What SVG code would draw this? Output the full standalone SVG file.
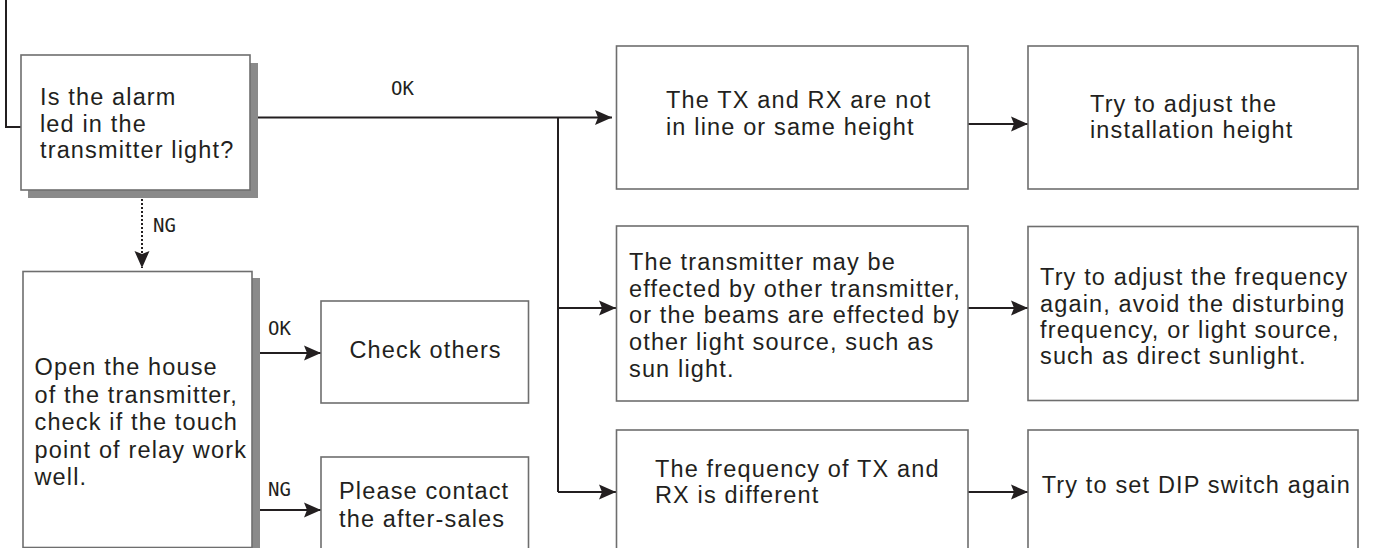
<svg xmlns="http://www.w3.org/2000/svg" width="1382" height="548" viewBox="0 0 1382 548">
<defs>
<style>
.box{fill:#fff;stroke:#6e6e6e;stroke-width:1.6}
.shadow{fill:#8a8a8a}
.t{font-family:"Liberation Sans",Arial,sans-serif;font-size:23.5px;letter-spacing:1.15px;fill:#231f20}
.lbl{font-family:"DejaVu Sans Mono","Liberation Mono",monospace;font-size:19px;fill:#231f20}
.ln{fill:none;stroke:#231f20;stroke-width:2}
.dot{fill:none;stroke:#231f20;stroke-width:2;stroke-dasharray:2 2}
</style>
<marker id="arr" markerUnits="userSpaceOnUse" markerWidth="18" markerHeight="16" refX="17" refY="8" orient="auto">
<path d="M0,0.5 L17,8 L0,15.5 L3,8 Z" fill="#231f20"/>
</marker>
</defs>
<rect width="1382" height="548" fill="#fff"/>
<g id="connectors">
<path class="ln" d="M6,0 V127 H21"/>
<path class="ln" d="M250,117.5 H612" marker-end="url(#arr)"/>
<path class="ln" d="M558,117.5 V492"/>
<path class="ln" d="M558,308 H616" marker-end="url(#arr)"/>
<path class="ln" d="M558,492 H616" marker-end="url(#arr)"/>
<path class="ln" d="M968,124 H1028" marker-end="url(#arr)"/>
<path class="ln" d="M968,308 H1028" marker-end="url(#arr)"/>
<path class="ln" d="M968,492 H1028" marker-end="url(#arr)"/>
<path class="dot" d="M142,191 V268" marker-end="url(#arr)"/>
<path class="ln" d="M252,353 H321" marker-end="url(#arr)"/>
<path class="ln" d="M252,510 H321" marker-end="url(#arr)"/>
<text class="lbl" x="391" y="95">OK</text>
<text class="lbl" x="153" y="232">NG</text>
<text class="lbl" x="268" y="335">OK</text>
<text class="lbl" x="268" y="496">NG</text>
</g>
<g id="q1">
<rect class="shadow" x="28" y="63" width="230" height="135"/>
<rect class="box" x="21" y="55" width="229" height="135"/>
<text class="t"><tspan x="40" y="105">Is the alarm</tspan><tspan x="40" y="131.5">led in the</tspan><tspan x="40" y="158">transmitter light?</tspan></text>
</g>
<g id="open">
<rect class="shadow" x="30" y="278" width="230" height="280"/>
<rect class="box" x="23" y="271.5" width="229" height="276"/>
<text class="t"><tspan x="34.5" y="375">Open the house</tspan><tspan x="34.5" y="402.5">of the transmitter,</tspan><tspan x="34.5" y="430">check if the touch</tspan><tspan x="34.5" y="457.5">point of relay work</tspan><tspan x="34.5" y="485">well.</tspan></text>
</g>
<g id="check">
<rect class="box" x="321" y="301" width="207.5" height="102"/>
<text class="t" x="349.5" y="357.5">Check others</text>
</g>
<g id="contact">
<rect class="box" x="321" y="457" width="207.5" height="92"/>
<text class="t"><tspan x="339" y="499">Please contact</tspan><tspan x="339" y="527">the after-sales</tspan></text>
</g>
<g id="c1">
<rect class="box" x="616.5" y="46" width="351.5" height="143"/>
<text class="t"><tspan x="666" y="108">The TX and RX are not</tspan><tspan x="666" y="135">in line or same height</tspan></text>
</g>
<g id="c2">
<rect class="box" x="616.5" y="226" width="351.5" height="175"/>
<text class="t"><tspan x="629" y="270">The transmitter may be</tspan><tspan x="629" y="296.7">effected by other transmitter,</tspan><tspan x="629" y="323">or the beams are effected by</tspan><tspan x="629" y="350">other light source, such as</tspan><tspan x="629" y="376.7">sun light.</tspan></text>
</g>
<g id="c3">
<rect class="box" x="616.5" y="430" width="351.5" height="120"/>
<text class="t"><tspan x="655" y="476.7">The frequency of TX and</tspan><tspan x="655" y="503">RX is different</tspan></text>
</g>
<g id="s1">
<rect class="box" x="1028" y="46" width="330" height="143"/>
<text class="t"><tspan x="1090" y="111.7">Try to adjust the</tspan><tspan x="1090" y="138">installation height</tspan></text>
</g>
<g id="s2">
<rect class="box" x="1028" y="226.5" width="330" height="174"/>
<text class="t"><tspan x="1040" y="285">Try to adjust the frequency</tspan><tspan x="1040" y="311.7">again, avoid the disturbing</tspan><tspan x="1040" y="338">frequency, or light source,</tspan><tspan x="1040" y="364">such as direct sunlight.</tspan></text>
</g>
<g id="s3">
<rect class="box" x="1028" y="430" width="330" height="120"/>
<text class="t" x="1041.7" y="493">Try to set DIP switch again</text>
</g>
</svg>
